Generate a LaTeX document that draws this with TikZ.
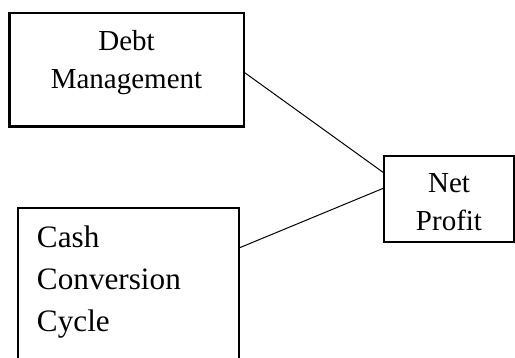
\documentclass[tikz,border=0pt]{standalone}
\usepackage{fontspec}
\setmainfont{Liberation Serif}
\usetikzlibrary{calc}

\begin{document}
\begin{tikzpicture}[x=0.5pt,y=-0.5pt]

% Stili per riquadri e collegamenti
\tikzset{
  box/.style={draw, line width=1pt, anchor=north west, inner sep=0pt, outer sep=0pt,
    font=\fontsize{14.5}{19}\selectfont, align=center},
  link/.style={line width=0.5pt}
}

\useasboundingbox (0,0) rectangle (515,358);
\clip (0,0) rectangle (515,358);

% --- Riquadri di sinistra ---
\node[box, line width=1.25pt, text width=117.25pt, text height=18.4pt, text depth=38.35pt]
  (debt) at (9.25,13.25) {Debt\\Management};
\node[box, align=left, inner xsep=9.5pt, font=\fontsize{15.6}{20.8}\selectfont,
  text width=91.5pt, text height=20pt, text depth=61pt]
  (ccc) at (18,208) {Cash\\Conversion\\Cycle};

% --- Riquadro di destra ---
\node[box, text width=65pt, text height=18.5pt, text depth=24.5pt]
  (netprofit) at (384,156) {Net\\Profit};

% Collegamenti
\draw[link] ([yshift=-1pt]debt.east) -- ([yshift=13pt]netprofit.west);
\draw[link] ([yshift=20.5pt]ccc.east) -- ([yshift=5.5pt]netprofit.west);
\end{tikzpicture}
\end{document}
